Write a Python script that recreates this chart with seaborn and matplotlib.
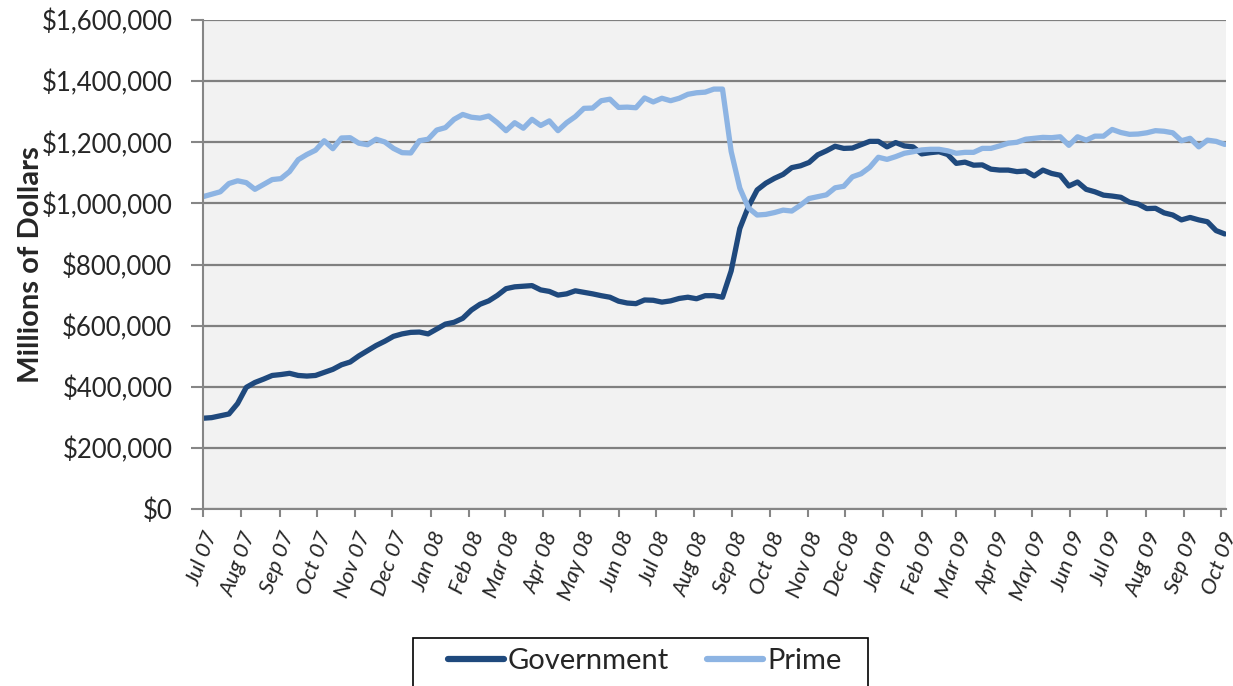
import numpy as np
import pandas as pd
import seaborn as sns
import matplotlib.pyplot as plt
import matplotlib.dates as mdates
from matplotlib.patches import Rectangle
from matplotlib.ticker import FuncFormatter

# weekly assets, thousands of millions
government = [297, 299, 305, 311, 345, 398, 414, 425, 437, 440,
              444, 437, 435, 437, 447, 457, 472, 481, 501, 518,
              535, 549, 565, 573, 578, 579, 573, 589, 605, 611,
              624, 651, 670, 681, 699, 721, 727, 729, 731, 717,
              712, 700, 704, 714, 709, 704, 698, 693, 680, 674,
              672, 684, 683, 677, 681, 689, 693, 688, 698, 698,
              693, 779, 918, 990, 1044, 1066, 1082, 1095, 1117, 1123,
              1134, 1159, 1172, 1187, 1180, 1181, 1192, 1203, 1203, 1185,
              1199, 1188, 1185, 1162, 1166, 1169, 1160, 1131, 1135, 1125,
              1126, 1112, 1109, 1109, 1104, 1106, 1090, 1109, 1098, 1092,
              1057, 1070, 1046, 1038, 1027, 1024, 1020, 1004, 998, 983,
              984, 969, 962, 946, 954, 946, 940, 911, 900]
prime = [1022, 1030, 1038, 1065, 1074, 1068, 1046, 1062, 1078, 1081,
         1104, 1143, 1160, 1174, 1205, 1179, 1214, 1215, 1197, 1192,
         1210, 1201, 1180, 1166, 1165, 1205, 1210, 1240, 1248, 1275,
         1291, 1282, 1279, 1286, 1264, 1238, 1264, 1246, 1275, 1255,
         1270, 1238, 1264, 1284, 1311, 1312, 1336, 1341, 1314, 1315,
         1313, 1345, 1332, 1344, 1336, 1344, 1357, 1362, 1364, 1374,
         1374, 1170, 1050, 985, 962, 964, 970, 978, 975, 994,
         1016, 1022, 1028, 1051, 1056, 1087, 1097, 1118, 1151, 1144,
         1153, 1164, 1169, 1175, 1177, 1177, 1172, 1164, 1167, 1167,
         1180, 1180, 1188, 1197, 1200, 1210, 1213, 1216, 1215, 1218,
         1190, 1218, 1207, 1220, 1220, 1242, 1232, 1226, 1227, 1231,
         1238, 1236, 1231, 1205, 1213, 1185, 1207, 1203, 1193]
dates = pd.date_range("2007-07-01", periods=len(government), freq="7D")

df = pd.DataFrame({
    "date": np.concatenate([dates, dates]),
    "value": np.array(government + prime) * 1000,
    "series": ["Government"] * len(government) + ["Prime"] * len(prime),
})

sns.set_style("white")
plt.rcParams["font.family"] = ["Lato", "DejaVu Sans"]

W, H = 1233, 686
fig = plt.figure(figsize=(W / 100, H / 100), dpi=100)
ax = fig.add_axes([0.1646, 0.258, 0.8297, 0.7128])
ax.set_facecolor("#F2F2F2")

sns.lineplot(data=df, x="date", y="value", hue="series",
             palette={"Government": "#1F497D", "Prime": "#8DB4E3"},
             linewidth=3.8, ax=ax, legend=True)

ax.set_ylim(0, 1600000)
ax.set_yticks(np.arange(0, 1600001, 200000))
ax.yaxis.set_major_formatter(FuncFormatter(lambda v, p: "${:,.0f}".format(v)))
ax.set_xlim(pd.Timestamp("2007-07-01"), pd.Timestamp("2009-10-05"))
ax.xaxis.set_major_locator(mdates.MonthLocator())
ax.xaxis.set_major_formatter(mdates.DateFormatter("%b %y"))

ax.grid(axis="y", color="#808080", linewidth=1.6)
ax.set_axisbelow(True)
for s in ["top", "right"]:
    ax.spines[s].set_visible(False)
for s in ["left", "bottom"]:
    ax.spines[s].set_color("#868686")
    ax.spines[s].set_linewidth(1.5)

ax.tick_params(axis="y", direction="out", length=9, width=1.5,
               color="#868686", labelsize=18.5, pad=13, left=True)
ax.tick_params(axis="x", direction="out", length=6, width=1.5,
               color="#868686", labelsize=16, pad=8, bottom=True)
for lab in ax.get_xticklabels():
    lab.set_rotation(70)
    lab.set_ha("right")
    lab.set_rotation_mode("anchor")
    lab.set_style("italic")

ax.set_xlabel("")
ax.set_ylabel("Millions of Dollars", fontsize=21, fontweight="bold")
ax.yaxis.set_label_coords(-0.155, 0.5)

# legend without its own frame; box drawn like the reference (runs off the bottom)
leg = ax.legend(loc="upper center", bbox_to_anchor=(0.523, 1 - 645 / H),
                bbox_transform=fig.transFigure, ncol=2, fontsize=21,
                frameon=False, handlelength=1.9,
                handletextpad=0.15, columnspacing=1.3, borderpad=0.1,
                borderaxespad=0)
for line in leg.get_lines():
    line.set_linewidth(4.5)
fig.patches.append(Rectangle((413 / W, -0.05), (868 - 413) / W, 0.05 + (H - 638) / H,
                             transform=fig.transFigure, fill=False,
                             edgecolor="black", linewidth=1.2))

fig.savefig("out.png", dpi=100)
